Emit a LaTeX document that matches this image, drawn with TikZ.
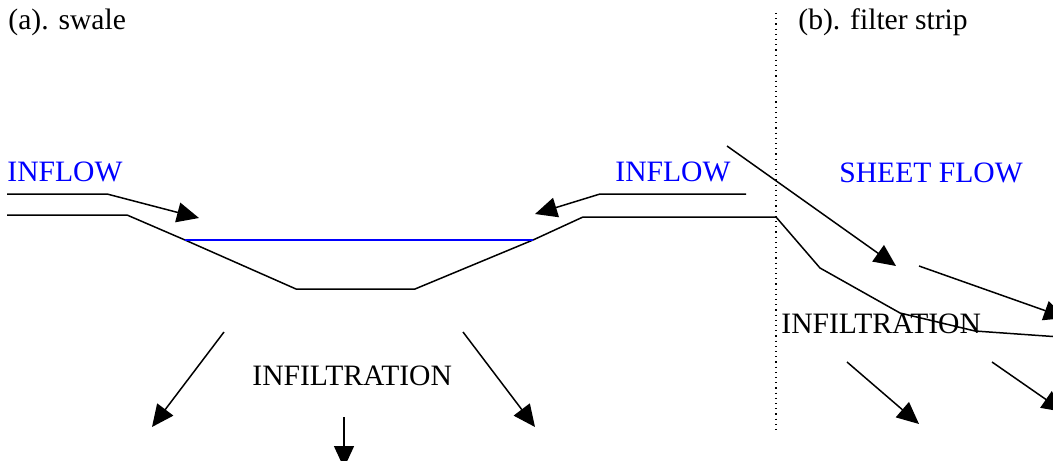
\documentclass[tikz,border=0pt]{standalone}
\usepackage{fontspec}
\setmainfont{Liberation Serif}
\usetikzlibrary{arrows.meta}

\begin{document}
\begin{tikzpicture}[x=0.5pt, y=-0.5pt,
  every node/.style={inner sep=0pt, anchor=base west, font=\fontsize{14.8}{17}\selectfont},
  flowarrow/.style={line width=0.75pt, -{Triangle[length=11pt, width=10pt]}},
  ground/.style={line width=0.75pt}]
\useasboundingbox (0,0) rectangle (1053,460);

% titles
\node (ta) at (8,30) {(a). swale};
\node (tb) at (798,30) {(b). filter strip};
\draw[dotted, line width=0.6pt] (776,13) coordinate (dtop) -- (776,430) coordinate (dbot);

% swale cross-section
\draw[ground] (7,215) -- (127,215) -- (185,240) coordinate (wl)
  -- (296,289) -- (415,289) -- (533,240) coordinate (wr)
  -- (583,217) -- (776,217) coordinate (edge);
\draw[blue, line width=0.75pt] (wl) -- (wr);

% inflow into swale
\node[blue] (inl) at (7,181) {INFLOW};
\node[blue] (inr) at (615,181) {INFLOW};
\coordinate (la) at (7,194);
\coordinate (lb) at (107,194);
\coordinate (lt) at (199,218);
\draw[flowarrow] (la) -- (lb) -- (lt);
\coordinate (ra) at (746,194);
\coordinate (rb) at (600,194);
\coordinate (rt) at (535,214);
\draw[flowarrow] (ra) -- (rb) -- (rt);

% infiltration below swale
\node (infa) at (252,385) {INFILTRATION};
\draw[flowarrow] (224,332) coordinate (s1) -- (152,427) coordinate (e1);
\draw[flowarrow] (463,332) coordinate (s2) -- (535,427) coordinate (e2);
\draw[flowarrow] (344,417) coordinate (s3) -- (344,468) coordinate (e3);

% filter strip
\draw[ground] (edge) -- (820,268) -- (900,313) -- (975,331) -- (1060,337);
\node[blue] (sheet) at (839,182) {SHEET FLOW};
\node (infb) at (781,333) {INFILTRATION};
\draw[flowarrow] (727,146) coordinate (s4) -- (896,266) coordinate (e4);
\draw[flowarrow] (919,266) coordinate (s5) -- (1066,318) coordinate (e5);
\draw[flowarrow] (847,362) coordinate (s6) -- (919,424) coordinate (e6);
\draw[flowarrow] (992,362) coordinate (s7) -- (1064,412) coordinate (e7);
\end{tikzpicture}
\end{document}
